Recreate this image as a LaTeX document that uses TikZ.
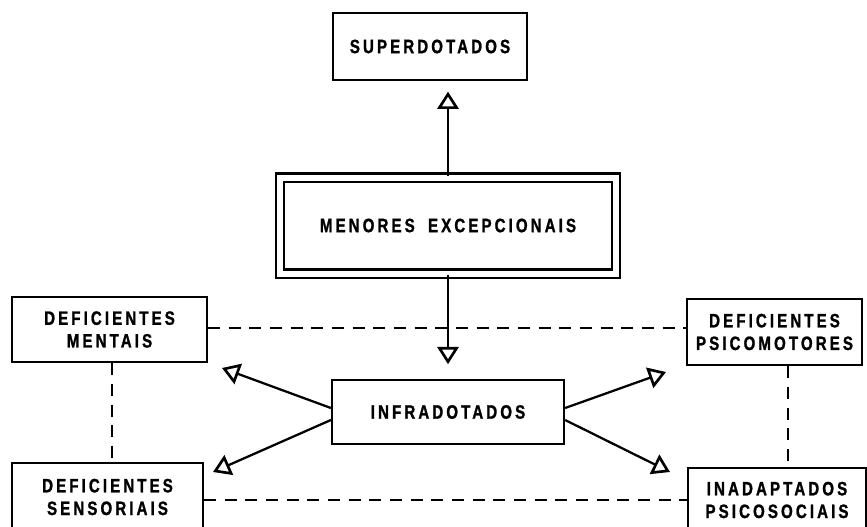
\documentclass[tikz,border=0pt]{standalone}
\usepackage{fontspec}
\usetikzlibrary{
    arrows.meta,
    positioning,
    calc
}
\newfontfamily\blockfont[FakeStretch=0.78, LetterSpace=16, FakeBold=1.2]{Liberation Sans Bold}
\tikzset{
    % --- Category box ---
    block/.style = {
        rectangle, draw, line width=1.7pt,
        font=\blockfont\fontsize{14.5}{17}\selectfont, align=center
    },
    % --- Main (double framed) box ---
    main block/.style = {
        block, double, double distance=4.5pt, line width=1.6pt
    },
    % --- Relation between groups ---
    relation/.style = {
        line width=1.7pt, dash pattern=on 9pt off 6.5pt
    },
    % --- Classification arrow ---
    class arrow/.style = {
        line width=1.7pt,
        -{Triangle[open, length=13pt, width=16pt, line width=2pt]}
    }
}

\begin{document}
\begin{tikzpicture}[x=0.75pt, y=-0.75pt]

% ---------------------------------------------------------
% Frame
% ---------------------------------------------------------
\clip (0,0) rectangle (867,526);
\fill[white] (0,0) rectangle (867,526);

% ---------------------------------------------------------
% Central boxes
% ---------------------------------------------------------
\node[block, minimum width=145pt, minimum height=50pt] (Super) at (430, 46.5) {SUPERDOTADOS};
\node[main block, minimum width=252pt, minimum height=72pt] (Menores) at (448, 225.5) {MENORES\hspace{10pt}EXCEPCIONAIS};
\node[block, minimum width=174pt, minimum height=48pt] (Infra) at (448, 412) {INFRADOTADOS};

% ---------------------------------------------------------
% Corner boxes
% ---------------------------------------------------------
\node[block, minimum width=146pt, minimum height=49pt] (DefMent) at (109.5, 329.5) {DEFICIENTES\\MENTAIS};
\node[block, minimum width=131pt, minimum height=50pt] (DefPsico) at (774.5, 332) {DEFICIENTES\\PSICOMOTORES};
\node[block, minimum width=143pt, minimum height=51pt] (DefSens) at (107.5, 497) {DEFICIENTES\\SENSORIAIS};
\node[block, minimum width=134pt, minimum height=48pt] (Inadapt) at (777, 500) {INADAPTADOS\\PSICOSOCIAIS};

% ---------------------------------------------------------
% Dashed relations
% ---------------------------------------------------------
\draw[relation] (DefMent.east |- 0,328) -- (DefPsico.west |- 0,328);
\draw[relation] (DefSens.east |- 0,500) -- (Inadapt.west |- 0,500);
\draw[relation] (DefMent.south -| 112,0) -- (DefSens.north -| 112,0);
\draw[relation] (DefPsico.south -| 788,0) -- (Inadapt.north -| 788,0);

% ---------------------------------------------------------
% Arrows
% ---------------------------------------------------------
\coordinate (tipUL) at (222, 368);
\coordinate (tipLL) at (213, 472);
\coordinate (tipUR) at (666, 372);
\coordinate (tipLR) at (670, 472);

\draw[class arrow, shorten >=8pt] (Menores.north) -- (Menores.north |- Super.south);
\draw[class arrow, shorten >=11pt] (Menores.south) -- (Infra.north);
\draw[class arrow] ($(Infra.west)+(0,-4)$) -- (tipUL);
\draw[class arrow] ($(Infra.west)+(0,8)$) -- (tipLL);
\draw[class arrow] ($(Infra.east)+(0,-4)$) -- (tipUR);
\draw[class arrow] ($(Infra.east)+(0,8)$) -- (tipLR);

\end{tikzpicture}
\end{document}
